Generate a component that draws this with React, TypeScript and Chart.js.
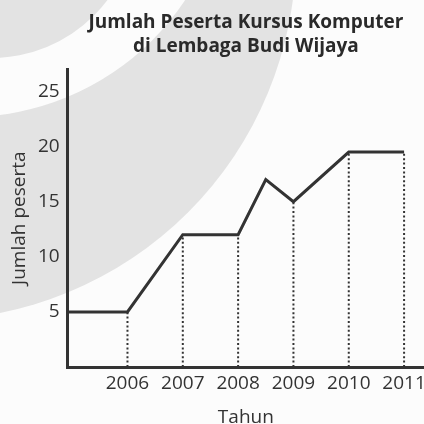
import React, { useEffect, useRef } from "react";
import { Chart, registerables } from "chart.js";

Chart.register(...registerables);

const titleLines = ["Jumlah Peserta Kursus Komputer", "di Lembaga Budi Wijaya"];
const xAxisTitle = "Tahun";
const yAxisTitle = "Jumlah peserta";

const xMin = 2004.92;
const xMax = 2011.36;
const yMin = 0;
const yMax = 27;

// polyline of the series (starts at the y-axis)
const lineYears = [xMin, 2006, 2007, 2008, 2008.5, 2009, 2010, 2011];
const lineValues = [5, 5, 12, 12, 17, 15, 19.5, 19.5];

// tick labels
const tickYears = [2006, 2007, 2008, 2009, 2010, 2011];
const tickValues = [5, 10, 15, 20, 25];

const INK = "#333333";
const FONT = "'Open Sans', 'Noto Sans', sans-serif";

const watermark = {
  id: "watermark",
  beforeDraw(chart: any) {
    const { ctx, width, height } = chart;
    ctx.save();
    ctx.fillStyle = "#fcfcfc";
    ctx.fillRect(0, 0, width, height);
    const disk = (cx: number, cy: number, r: number, c: string) => {
      ctx.beginPath();
      ctx.arc(cx, cy, r, 0, Math.PI * 2);
      ctx.fillStyle = c;
      ctx.fill();
    };
    disk(-72, -48, 368, "#e3e3e3");
    disk(-33, -145, 262, "#fcfcfc");
    disk(-9, -88, 146, "#e3e3e3");
    ctx.restore();
  },
};

export default function App() {
  const ref = useRef<HTMLCanvasElement | null>(null);

  useEffect(() => {
    if (!ref.current) return;
    const points = lineYears.map((x, i) => ({ x, y: lineValues[i] }));
    const dropLines = tickYears.map((yr) => {
      const idx = lineYears.indexOf(yr);
      return {
        data: [
          { x: yr, y: yMin },
          { x: yr, y: lineValues[idx] },
        ],
        showLine: true,
        borderColor: INK,
        borderWidth: 2,
        borderDash: [2, 2.4],
        pointRadius: 0,
        fill: false,
      };
    });
    const tickFont = { family: FONT, size: 19, lineHeight: 1 };
    const chart = new Chart(ref.current, {
      type: "scatter",
      data: {
        datasets: [
          ...dropLines,
          {
            data: points,
            showLine: true,
            borderColor: INK,
            borderWidth: 3,
            pointRadius: 0,
            fill: false,
            borderJoinStyle: "miter",
          },
        ] as any,
      },
      options: {
        animation: false,
        responsive: false,
        layout: { padding: { left: 6, right: 0, top: 0, bottom: 0 } },
        plugins: {
          legend: { display: false },
          tooltip: { enabled: false },
          title: {
            display: true,
            text: titleLines,
            fullSize: false,
            color: "#2a2a2a",
            font: { family: FONT, size: 19, weight: "bold", lineHeight: 1.3 },
            padding: { top: 10, bottom: 10 },
          },
        },
        scales: {
          x: {
            type: "linear",
            min: xMin,
            max: xMax,
            grid: { display: false, drawTicks: false },
            border: { display: true, color: INK, width: 3 },
            afterBuildTicks: (s: any) => {
              s.ticks = tickYears.map((v) => ({ value: v }));
            },
            afterFit: (s: any) => {
              s.paddingRight = 0;
            },
            ticks: {
              color: INK,
              font: tickFont,
              padding: 7,
              autoSkip: false,
              maxRotation: 0,
              callback: (v: any) => String(v),
            },
            title: {
              display: true,
              text: xAxisTitle,
              color: INK,
              font: tickFont,
              padding: { top: 8, bottom: -3 },
            },
          },
          y: {
            type: "linear",
            min: yMin,
            max: yMax,
            grid: { display: false, drawTicks: false },
            border: { display: true, color: INK, width: 3 },
            afterBuildTicks: (s: any) => {
              s.ticks = tickValues.map((v) => ({ value: v }));
            },
            ticks: {
              color: INK,
              font: tickFont,
              padding: 8,
              callback: (v: any) => String(v),
            },
            title: {
              display: true,
              text: yAxisTitle,
              color: INK,
              font: tickFont,
              padding: { top: 4, bottom: 1 },
            },
          },
        },
      } as any,
      plugins: [watermark],
    });
    return () => chart.destroy();
  }, []);

  return (
    <div style={{ position: "absolute", left: 0, top: 0, width: 424, height: 424 }}>
      <canvas ref={ref} width={424} height={424} />
    </div>
  );
}
